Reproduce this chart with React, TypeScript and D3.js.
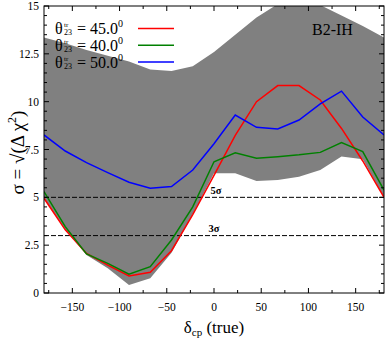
import * as d3 from "d3";

const DELTA = [-180, -157.5, -135, -112.5, -90, -67.5, -45, -22.5, 0, 22.5, 45, 67.5, 90, 112.5, 135, 157.5, 180];

const RED = [4.95, 3.3, 2.07, 1.46, 0.89, 1.08, 2.21, 4.1, 6.15, 8.24, 10.0, 10.84, 10.84, 10.09, 8.6, 6.9, 5.0];
const GREEN = [5.3, 3.47, 2.04, 1.55, 0.98, 1.38, 2.77, 4.5, 6.86, 7.33, 7.04, 7.12, 7.22, 7.35, 7.86, 7.39, 5.38];
const BLUE = [8.26, 7.42, 6.81, 6.29, 5.79, 5.47, 5.56, 6.43, 7.8, 9.3, 8.66, 8.57, 9.04, 9.88, 10.55, 9.2, 8.26];

const BAND_HI = [13.35, 13.05, 12.7, 12.4, 12.1, 11.68, 11.6, 11.85, 12.6, 13.5, 14.4, 15.1, 15.2, 15.05, 14.5, 13.95, 13.35];
const BAND_LO = [4.95, 3.3, 1.99, 1.29, 0.42, 0.77, 2.1, 4.1, 6.26, 6.26, 5.85, 5.9, 6.08, 6.43, 7.13, 6.99, 5.0];

const LEGEND = [
  { val: "45.0", color: "#ff0000", data: RED },
  { val: "40.0", color: "#008000", data: GREEN },
  { val: "50.0", color: "#0000ff", data: BLUE },
];

const X_TICKS = [-150, -100, -50, 0, 50, 100, 150];
const Y_TICKS = [0, 2.5, 5, 7.5, 10, 12.5, 15];

const W = 390;
const H = 339;
const M = { left: 44, right: 6, top: 6, bottom: 46 };
const FONT = "Liberation Serif, Times New Roman, serif";

export default function App() {
  const x = d3.scaleLinear().domain([-180, 180]).range([M.left, W - M.right]);
  const y = d3.scaleLinear().domain([0, 15]).range([H - M.bottom, M.top]);
  const x0 = M.left, x1 = W - M.right, y0 = H - M.bottom, y1 = M.top;

  const line = d3
    .line<number>()
    .x((_, i) => x(DELTA[i]))
    .y((d) => y(d));

  const area = d3
    .area<number>()
    .x((_, i) => x(DELTA[i]))
    .y0((_, i) => y(BAND_LO[i]))
    .y1((d) => y(d));

  const xMinor = d3.range(-175, 180, 25);
  const yMinor = d3.range(0, 15.01, 0.5);

  return (
    <svg width={W} height={H} style={{ position: "absolute", left: 0, top: 0 }} fontFamily={FONT}>
      <defs>
        <clipPath id="plot">
          <rect x={x0} y={y1} width={x1 - x0} height={y0 - y1} />
        </clipPath>
      </defs>
      <rect width={W} height={H} fill="#fff" />
      <g clipPath="url(#plot)">
        <path d={area(BAND_HI) ?? ""} fill="#808080" />
        {[5, 3].map((v) => (
          <line key={v} x1={x0} x2={x1} y1={y(v)} y2={y(v)} stroke="#000" strokeWidth={1} strokeDasharray="5,2" />
        ))}
        {LEGEND.map((s) => (
          <path key={s.val} d={line(s.data) ?? ""} fill="none" stroke={s.color} strokeWidth={1.5} />
        ))}
      </g>

      {/* frame and ticks */}
      <rect x={x0} y={y1} width={x1 - x0} height={y0 - y1} fill="none" stroke="#000" strokeWidth={1} />
      {xMinor.map((t) => {
        const major = t % 50 === 0;
        const l = major ? 5 : 3;
        return (
          <g key={t} stroke="#000">
            <line x1={x(t)} x2={x(t)} y1={y0} y2={y0 - l} />
            <line x1={x(t)} x2={x(t)} y1={y1} y2={y1 + l} />
          </g>
        );
      })}
      {yMinor.map((t) => {
        const major = Math.abs(t / 2.5 - Math.round(t / 2.5)) < 1e-6;
        const l = major ? 5 : 3;
        return (
          <g key={t} stroke="#000">
            <line x1={x0} x2={x0 + l} y1={y(t)} y2={y(t)} />
            <line x1={x1} x2={x1 - l} y1={y(t)} y2={y(t)} />
          </g>
        );
      })}
      {X_TICKS.map((t) => (
        <text key={t} x={x(t)} y={y0 + 18} textAnchor="middle" fontSize={11.5}>
          {t < 0 ? `\u2212${-t}` : t}
        </text>
      ))}
      {Y_TICKS.map((t) => (
        <text key={t} x={x0 - 5} y={y(t) + 4} textAnchor="end" fontSize={11.5}>
          {t}
        </text>
      ))}

      {/* sigma labels */}
      <text x={216} y={y(5) - 3} textAnchor="middle" fontSize={10.5} fontWeight="bold">5σ</text>
      <text x={214} y={y(3) - 4} textAnchor="middle" fontSize={10.5} fontWeight="bold">3σ</text>

      {/* legend */}
      {LEGEND.map((s, i) => {
        const ly = 34 + i * 16.8;
        return (
          <g key={s.val}>
            <text x={55} y={ly} fontSize={16}>
              θ
              <tspan x={64} dy={-7} fontSize={7}>tr</tspan>
              <tspan x={64} dy={8} fontSize={8}>23</tspan>
              <tspan x={77} dy={-1}>= {s.val}</tspan>
              <tspan fontSize={10} dy={-7}>0</tspan>
            </text>
            <line x1={138} x2={174} y1={ly - 5.5} y2={ly - 5.5} stroke={s.color} strokeWidth={1.5} />
          </g>
        );
      })}

      <text x={312} y={35} fontSize={16}>B2-IH</text>

      {/* axis titles */}
      <text x={214} y={y0 + 40} textAnchor="middle" fontSize={17}>
        δ<tspan fontSize={11} dy={3}>cp</tspan>
        <tspan dy={-3}> (true)</tspan>
      </text>
      <text transform={`translate(24,${(y0 + y1) / 2 + 3}) rotate(-90)`} textAnchor="middle" fontSize={19}>
        σ = √(Δ χ<tspan fontSize={12} dy={-8}>2</tspan>
        <tspan dy={8}>)</tspan>
      </text>
    </svg>
  );
}
